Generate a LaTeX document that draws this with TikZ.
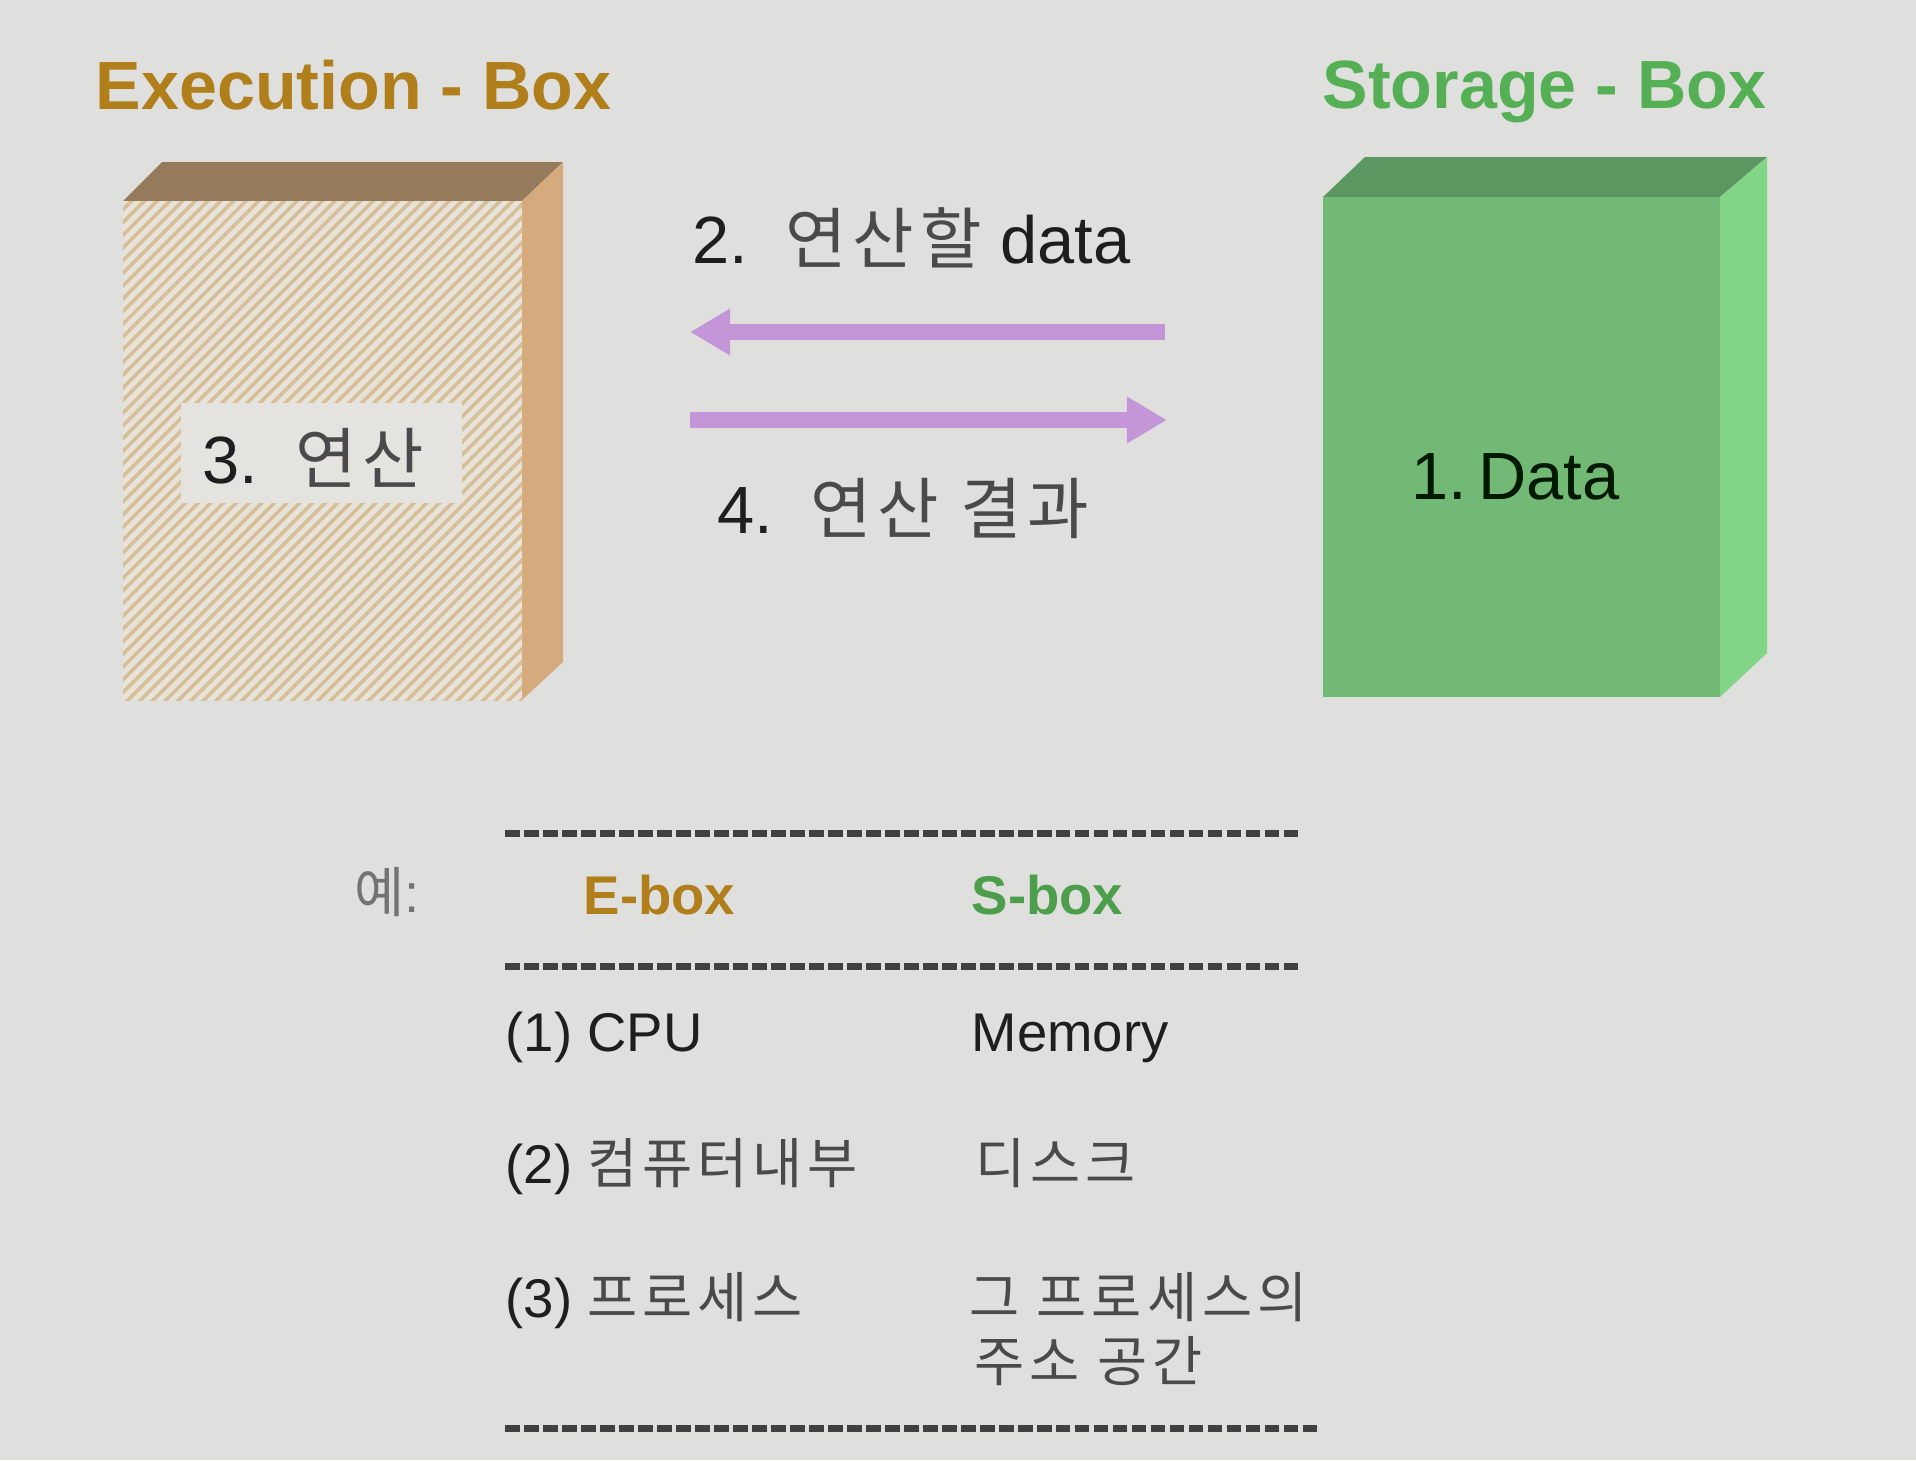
\documentclass[tikz,border=0pt]{standalone}
\usepackage{fontspec}
\setmainfont{Liberation Sans}
\newfontfamily\kr[LetterSpace=9]{Noto Sans CJK KR}
\usetikzlibrary{arrows.meta}
\definecolor{bg}{HTML}{DFDFDD}
\definecolor{efront}{HTML}{E8E3D8}
\definecolor{estripe}{HTML}{D6BE98}
\definecolor{etop}{HTML}{957A5C}
\definecolor{eright}{HTML}{D5AB7E}
\definecolor{patch}{HTML}{E4E3DF}
\definecolor{sfront}{HTML}{72B976}
\definecolor{stop}{HTML}{5C9660}
\definecolor{sright}{HTML}{82D487}
\definecolor{ecol}{HTML}{B07F1C}
\definecolor{scol}{HTML}{55B055}
\definecolor{arrowc}{HTML}{C496D8}
\definecolor{krc}{HTML}{4A4A4A}
\definecolor{txt}{HTML}{1E1E1E}
\begin{document}
\begin{tikzpicture}[x=0.01cm,y=-0.01cm,
  title/.style={font=\bfseries\fontsize{19.4}{22}\selectfont, anchor=base west, inner sep=0},
  midtxt/.style={font=\fontsize{19}{22}\selectfont, anchor=base west, inner sep=0, text=txt},
  tbl/.style={font=\fontsize{15.5}{18}\selectfont, anchor=base west, inner sep=0, text=txt},
  tblb/.style={font=\bfseries\fontsize{15.5}{18}\selectfont, anchor=base west, inner sep=0},
  flow/.style={line width=4.3pt, draw=arrowc, -{Triangle[length=11.4pt,width=12.5pt]}},
  dline/.style={draw=black!75, line width=2pt, dash pattern=on 4.2pt off 1.2pt}]

\fill[bg] (0,0) rectangle (1916,1460);

% ---------- Execution box ----------
\fill[etop] (123,201) -- (522,201) -- (563,162) -- (162,162) -- cycle;
\fill[eright] (522,201) -- (563,162) -- (563,662) -- (522,700) -- cycle;
\begin{scope}
  \clip (123,201) rectangle (522,700);
  \fill[efront] (123,201) rectangle (522,700);
  \foreach \k in {0,...,74} {
    \draw[estripe, line width=1pt] ({-390+\k*12.7},710) -- ++(520,-520);
  }
\end{scope}
\node (ebox) [inner sep=0, minimum width=3.99cm, minimum height=4.99cm] at (322.5,450.5) {};
\node (elabelbg) [fill=patch, inner sep=0, minimum width=2.81cm, minimum height=1cm] at (321.5,453) {};
\node[midtxt] (elabel) at (202,483) {3.~~{\kr\color{krc}연산}};

% ---------- Storage box ----------
\fill[stop] (1323,197) -- (1720,197) -- (1767,157) -- (1365,157) -- cycle;
\fill[sright] (1720,197) -- (1767,157) -- (1767,653) -- (1720,697) -- cycle;
\node (sbox) [fill=sfront, inner sep=0, minimum width=3.97cm, minimum height=5cm] at (1521.5,447) {};
\node[midtxt, text=black!90!green] (slabel) at (1411,499) {1.\,Data};

% ---------- Titles ----------
\node[title, text=ecol] (etitle) at (95,109) {Execution - Box};
\node[title, text=scol] (stitle) at (1322,108) {Storage - Box};

% ---------- Arrows ----------
\coordinate (a1from) at (1165,332);
\coordinate (a1to) at (690,332);
\coordinate (a2from) at (690,420);
\coordinate (a2to) at (1167,420);
\draw[flow] (a1from) -- (a1to);
\draw[flow] (a2from) -- (a2to);
\node[midtxt] (m2) at (692,263) {2.~~{\kr\color{krc}연산할} data};
\node[midtxt] (m4) at (717,533) {4.~~{\kr\color{krc}연산 결과}};

% ---------- Table ----------
\coordinate (d1a) at (505,833); \coordinate (d1b) at (1301,833);
\coordinate (d2a) at (505,966); \coordinate (d2b) at (1301,966);
\coordinate (d3a) at (505,1428); \coordinate (d3b) at (1320,1428);
\draw[dline] (d1a) -- (d1b);
\draw[dline] (d2a) -- (d2b);
\draw[dline] (d3a) -- (d3b);

\node[tbl, text=black!55] (ye) at (354,912) {{\kr 예}:};
\node[tblb, text=ecol] (eb) at (583,914) {E-box};
\node[tblb, text=scol!90!black] (sb) at (971,914) {S-box};
\node[tbl] (r1a) at (505,1051) {(1) CPU};
\node[tbl] (r1b) at (971,1051) {Memory};
\node[tbl] (r2a) at (505,1183) {(2) {\kr\color{krc}컴퓨터내부}};
\node[tbl] (r2b) at (975,1183) {{\kr\color{krc}디스크}};
\node[tbl] (r3a) at (505,1317) {(3) {\kr\color{krc}프로세스}};
\node[tbl] (r3b) at (969,1317) {{\kr\color{krc}그 프로세스의}};
\node[tbl] (r3c) at (974,1381) {{\kr\color{krc}주소 공간}};
\end{tikzpicture}
\end{document}
